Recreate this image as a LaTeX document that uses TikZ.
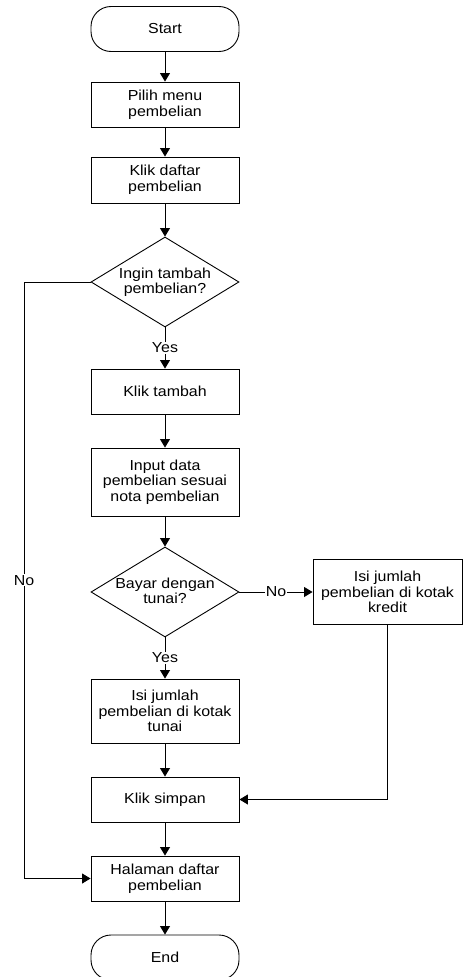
\documentclass[tikz,border=0pt]{standalone}
\usepackage{fontspec}
\setmainfont{Liberation Sans}[FakeStretch=1.1]
\usetikzlibrary{arrows.meta,shapes.geometric}
\newcommand\flowfont{\fontsize{14.5pt}{15.7pt}\selectfont}
\newcommand\dtext[1]{\smash{\makebox[0pt]{\raisebox{-0.3em}{\begin{tabular}{@{}c@{}}#1\end{tabular}}}}}
\begin{document}
\begin{tikzpicture}[x=1pt,y=-1pt,
  line width=0.9pt,
  box/.style={draw, rectangle, minimum width=148pt, inner sep=0pt, align=center, font=\flowfont},
  pill/.style={draw, rectangle, rounded corners=20pt, minimum width=148pt, minimum height=45pt, inner sep=0pt, font=\flowfont},
  dec/.style={draw, diamond, minimum width=148pt, minimum height=90pt, inner sep=0pt, font=\flowfont},
  arr/.style={-{Triangle[length=8.5pt,width=10pt]}},
  lbl/.style={fill=white, inner sep=1pt, font=\flowfont}]
\fill[white] (0,0) rectangle (469,977);
\useasboundingbox (0,0) rectangle (469,977);

\node[pill] (start) at (165,29) {Start};
\node[box, minimum height=45pt] (p1) at (165,104.5) {Pilih menu\\pembelian};
\node[box, minimum height=46pt] (p2) at (165,180) {Klik daftar\\pembelian};
\node[dec] (d1) at (165,282) {\dtext{Ingin tambah\\pembelian?}};
\node[box, minimum height=45pt] (kt) at (165,391.5) {Klik tambah};
\node[box, minimum height=68pt] (inp) at (165,482) {Input data\\pembelian sesuai\\nota pembelian};
\node[dec] (d2) at (165,592) {\dtext{Bayar dengan\\tunai?}};
\node[box, minimum height=65pt, minimum width=149pt] (kr) at (387.5,592) {Isi jumlah\\pembelian di kotak\\kredit};
\node[box, minimum height=64pt] (tn) at (165,711) {Isi jumlah\\pembelian di kotak\\tunai};
\node[box, minimum height=45pt] (ks) at (165,799.5) {Klik simpan};
\node[box, minimum height=45pt] (hal) at (165,878.5) {Halaman daftar\\pembelian};
\node[pill] (end) at (165,957.5) {End};

\coordinate (lc) at (24,282);

\draw[arr] (start) -- (p1);
\draw[arr] (p1) -- (p2);
\draw[arr] (p2) -- (d1);
\draw[arr] (d1) -- node[lbl] {Yes} (kt);
\draw[arr] (kt) -- (inp);
\draw[arr] (inp) -- (d2);
\draw[arr] (d2) -- node[lbl] {Yes} (tn);
\draw[arr] (d2.east) -- node[lbl] {No} (kr.west);
\draw[arr] (tn) -- (ks);
\draw[arr] (kr.south) |- (ks.east);
\draw[arr] (ks) -- (hal);
\draw[arr] (d1.west) -- (lc) |- node[lbl, pos=0.25] {No} (hal.west);
\draw[arr] (hal) -- (end);
\end{tikzpicture}
\end{document}
